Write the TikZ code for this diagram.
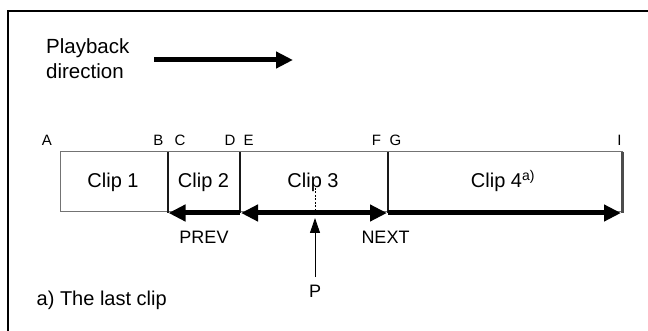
\documentclass[tikz,border=0pt]{standalone}
\usepackage{fontspec}
\setmainfont{Liberation Sans}
\usetikzlibrary{arrows.meta}
\begin{document}
\begin{tikzpicture}[x=1pt,y=-1pt,
  lbl/.style={inner sep=0pt,anchor=base,font=\fontsize{15}{17}\selectfont},
  cliptxt/.style={inner sep=0pt,anchor=base,font=\fontsize{20}{23}\selectfont},
  smalltxt/.style={inner sep=0pt,anchor=base,font=\fontsize{18}{20}\selectfont},
  bigtxt/.style={inner sep=0pt,anchor=base west,font=\fontsize{20.5}{25}\selectfont},
  fatarrow/.style={line width=5pt,-{Triangle[length=17pt,width=16pt]}},
  fatdouble/.style={line width=5pt,{Triangle[length=17pt,width=16pt]}-{Triangle[length=17pt,width=16pt]}},
  divider/.style={line width=2pt,black!90},
  barline/.style={line width=1pt,black!55}]
\useasboundingbox (0,0) rectangle (648,331);
% frame
\draw[line width=2pt] (8,332) -- (8,11) -- (649,11);
% playback direction
\node[bigtxt] (pb1) at (46,53.3) {Playback};
\node[bigtxt] (pb2) at (46,78.3) {direction};
\coordinate (pa) at (154,60);
\coordinate (pb) at (293,60);
\draw[fatarrow] (pa) -- (pb);
% bar
\draw[barline] (60,152) rectangle (622,211.5);
\coordinate (Bt) at (168,152); \coordinate (Bb) at (168,213);
\coordinate (Dt) at (240,152); \coordinate (Db) at (240,213);
\coordinate (Ft) at (387.5,152); \coordinate (Fb) at (387.5,213);
\coordinate (It) at (622,152); \coordinate (Ib) at (622,213);
\draw[divider] (Bt) -- (Bb);
\draw[divider] (Dt) -- (Db);
\draw[divider] (Ft) -- (Fb);
\draw[line width=3pt,black!70] (It) -- (Ib);
% letter labels
\node[lbl] (lA) at (47,146) {A};
\node[lbl] (lB) at (158.5,146) {B};
\node[lbl] (lC) at (180,146) {C};
\node[lbl] (lD) at (230,146) {D};
\node[lbl] (lE) at (248.5,146) {E};
\node[lbl] (lF) at (376.5,146) {F};
\node[lbl] (lG) at (395.5,146) {G};
\node[lbl] (lI) at (619.5,146) {I};
% clip labels
\node[cliptxt] (c1) at (113,188) {Clip 1};
\node[cliptxt] (c2) at (203.5,188) {Clip 2};
\node[cliptxt] (c3) at (313,188) {Clip 3};
\node[cliptxt] (c4) at (503,188) {Clip 4\textsuperscript{a)}};
% arrows
\coordinate (a1) at (240,213);
\coordinate (a2) at (168.5,213);
\coordinate (a3) at (241,213);
\coordinate (a4) at (387,213);
\coordinate (a5) at (388,213);
\coordinate (a6) at (621,213);
\draw[fatarrow] (a1) -- (a2);
\draw[fatdouble] (a3) -- (a4);
\draw[fatarrow] (a5) -- (a6);
\node[smalltxt] (prev) at (204,243.5) {PREV};
\node[smalltxt] (next) at (385.5,243.5) {NEXT};
% P
\coordinate (dtop) at (315,188);
\coordinate (dbot) at (315,211);
\draw[dashed,line width=0.6pt,dash pattern=on 2pt off 1.5pt] (dtop) -- (dbot);
\node[smalltxt] (P) at (315,297) {P};
\coordinate (ptail) at (315,277);
\coordinate (ptip) at (315,218);
\draw[line width=0.9pt,-{Triangle[length=15pt,width=10pt]}] (ptail) -- (ptip);
% footnote
\node[bigtxt,font=\fontsize{20}{23}\selectfont] (fn) at (36.5,305) {a) The last clip};
\end{tikzpicture}
\end{document}
